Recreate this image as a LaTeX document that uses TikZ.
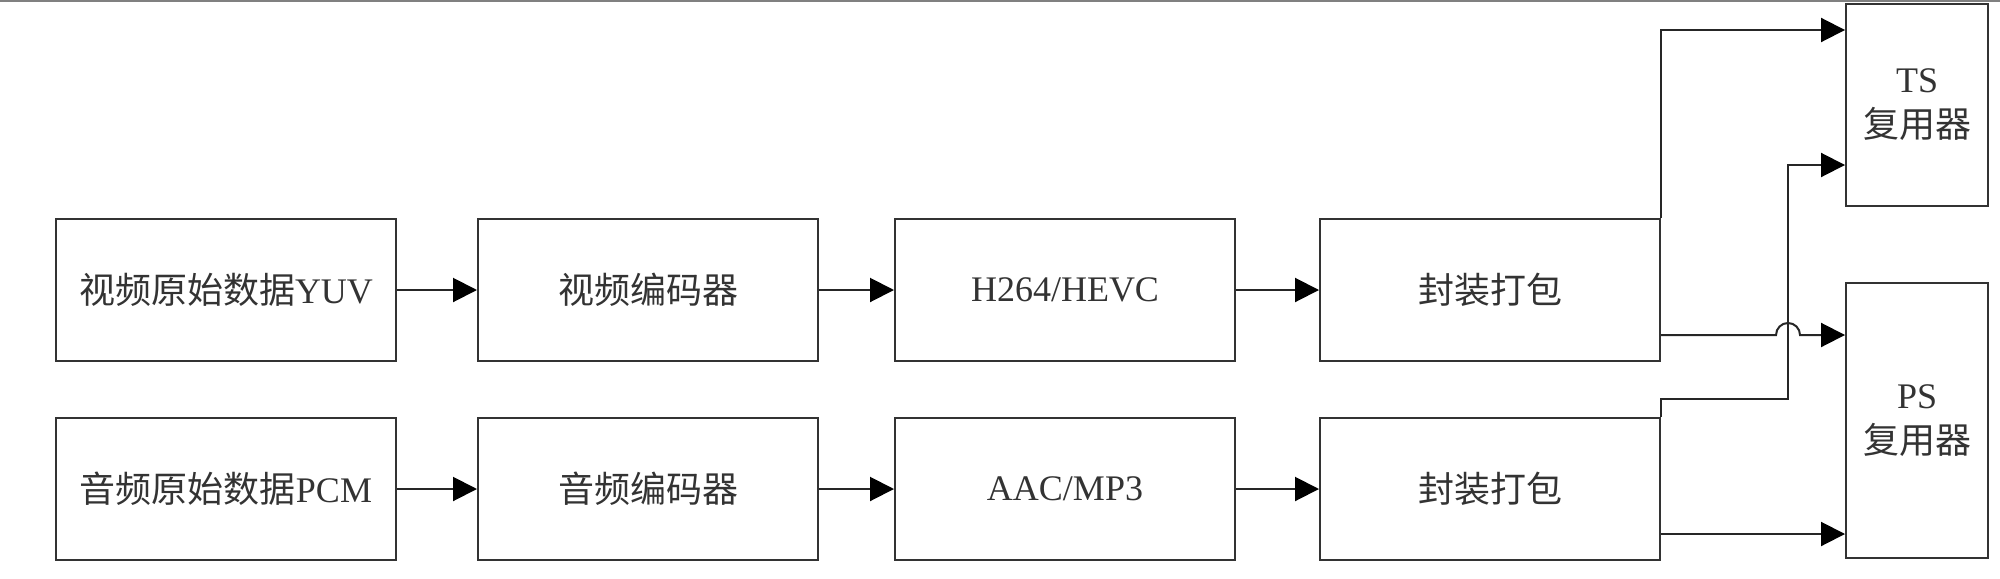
\documentclass[tikz,border=0pt]{standalone}
\usepackage{fontspec}
\setmainfont{Liberation Serif}
\newfontfamily\cjk{Noto Sans CJK SC}
\usetikzlibrary{arrows.meta, positioning, calc}

\begin{document}
\begin{tikzpicture}[
    node distance=40pt,
    block/.style={rectangle, minimum width=170pt, minimum height=71pt, inner sep=0pt, text centered, draw=black!80, line width=1pt, text=black!80, font=\fontsize{18}{22.5}\selectfont},
    mux/.style={block, minimum width=71pt, align=center},
    arrow/.style={draw=black!85, line width=1pt, -{Triangle[length=12pt,width=12pt,color=black]}}
]
    \useasboundingbox (0,0) rectangle (1000pt,-289pt);
    \draw [gray, line width=1pt] (0,-0.5pt) -- (1000pt,-0.5pt);

    \node (vraw) [block] at (113pt,-145pt) {{\cjk 视频原始数据}YUV};
    \node (venc) [block, right=of vraw] {\cjk 视频编码器};
    \node (vcod) [block, right=37.5pt of venc] {H264/HEVC};
    \node (vpack) [block, right=41.5pt of vcod] {\cjk 封装打包};
    \node (araw) [block, below=27.5pt of vraw] {{\cjk 音频原始数据}PCM};
    \node (aenc) [block, right=of araw] {\cjk 音频编码器};
    \node (acod) [block, right=37.5pt of aenc] {AAC/MP3};
    \node (apack) [block, right=41.5pt of acod] {\cjk 封装打包};
    \node (ts) [mux, minimum height=101pt] at (958.5pt,-52.5pt) {TS\\{\cjk 复用器}};
    \node (ps) [mux, minimum height=137.5pt] at (958.5pt,-210.25pt) {PS\\{\cjk 复用器}};

    \coordinate (tsin1) at ([yshift=37.5pt]ts.west);
    \coordinate (tsin2) at ([yshift=-30pt]ts.west);
    \coordinate (vout) at ([yshift=-22.5pt]vpack.east);
    \coordinate (aout) at ([yshift=-22.5pt]apack.east);
    \coordinate (bend) at (894pt,-199.5pt);

    \draw [arrow] (vraw) -- (venc);
    \draw [arrow] (venc) -- (vcod);
    \draw [arrow] (vcod) -- (vpack);
    \draw [arrow] (araw) -- (aenc);
    \draw [arrow] (aenc) -- (acod);
    \draw [arrow] (acod) -- (apack);
    \draw [arrow] (vpack.north east) |- (tsin1);
    \draw [arrow] (apack.north east) |- (bend) |- (tsin2);
    \draw [arrow] (vout) -- ($(vout -| bend)+(-6pt,0)$) arc[start angle=180, end angle=0, radius=6pt] -- (vout -| ps.west);
    \draw [arrow] (aout) -- (aout -| ps.west);
\end{tikzpicture}
\end{document}
